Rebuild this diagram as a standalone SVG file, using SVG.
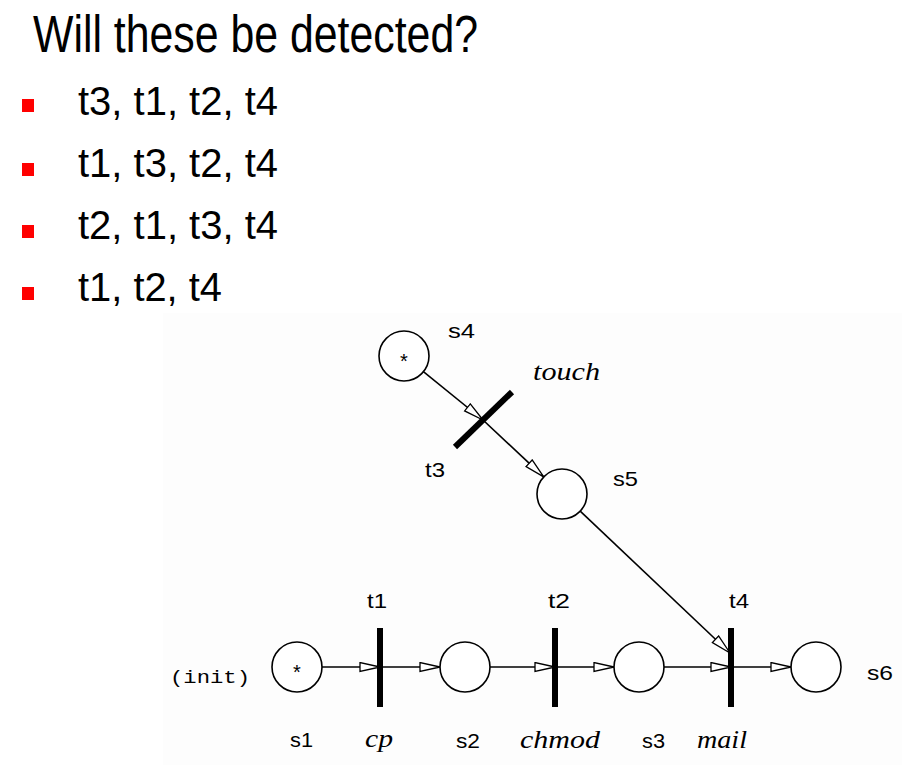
<svg xmlns="http://www.w3.org/2000/svg" width="915" height="765" viewBox="0 0 915 765">
<style>
.place{fill:#fff;stroke:#000;stroke-width:1.6}
.bar{stroke:#000;stroke-width:6}
.arc{stroke:#000;stroke-width:1.6;fill:none;marker-end:url(#arr)}
.lbl{font-family:"Liberation Sans",Arial,sans-serif;font-size:21px;fill:#000}
.it{font-family:"Liberation Serif","Times New Roman",serif;font-style:italic;font-size:25px;fill:#000}
.mono{font-family:"Liberation Mono","Courier New",monospace;font-size:19px;fill:#000}
.tok{font-family:"Liberation Sans",Arial,sans-serif;font-size:20px;fill:#000}
.big{font-family:"Liberation Sans",Arial,sans-serif;font-size:41px;fill:#000}
.bul{fill:#ff0000}
</style>
<defs>
<marker id="arr" markerUnits="userSpaceOnUse" markerWidth="22" markerHeight="12" refX="21" refY="5.5" orient="auto">
<path d="M1,1 L21,5.5 L1,10 z" fill="#fff" stroke="#000" stroke-width="1.3"/>
</marker>
</defs>
<rect width="915" height="765" fill="#fff"/>
<rect x="163" y="313" width="739" height="452" fill="#fdfdfd"/>
<g id="title"><text x="33" y="52" font-family="'Liberation Sans',Arial,sans-serif" font-size="51" textLength="445" lengthAdjust="spacingAndGlyphs">Will these be detected?</text></g>
<g id="bullets">
<rect class="bul" x="22" y="99" width="12" height="13"/>
<text class="big" x="78" y="115" textLength="200" lengthAdjust="spacingAndGlyphs">t3, t1, t2, t4</text>
<rect class="bul" x="22" y="163" width="12" height="13"/>
<text class="big" x="78" y="177" textLength="200" lengthAdjust="spacingAndGlyphs">t1, t3, t2, t4</text>
<rect class="bul" x="22" y="225" width="12" height="13"/>
<text class="big" x="78" y="239" textLength="200" lengthAdjust="spacingAndGlyphs">t2, t1, t3, t4</text>
<rect class="bul" x="22" y="287" width="12" height="13"/>
<text class="big" x="78" y="301" textLength="144" lengthAdjust="spacingAndGlyphs">t1, t2, t4</text>
</g>
<g id="connectors">
<line class="arc" x1="423.4" y1="371.7" x2="483" y2="420"/>
<line class="arc" x1="483" y1="420" x2="543.7" y2="476.9"/>
<line class="arc" x1="580.2" y1="511.1" x2="730" y2="653"/>
<line class="arc" x1="322" y1="667" x2="380" y2="667"/>
<line class="arc" x1="380" y1="667" x2="440" y2="667"/>
<line class="arc" x1="490" y1="667" x2="555" y2="667"/>
<line class="arc" x1="555" y1="667" x2="614" y2="667"/>
<line class="arc" x1="664" y1="667" x2="731" y2="667"/>
<line class="arc" x1="731" y1="667" x2="791" y2="667"/>
</g>
<g id="s4"><circle class="place" cx="404" cy="356" r="25"/><text class="tok" x="404" y="368" text-anchor="middle">*</text><text class="lbl" x="448" y="338" textLength="27" lengthAdjust="spacingAndGlyphs">s4</text></g>
<g id="t3"><line class="bar" stroke-width="5" x1="455" y1="447" x2="512" y2="392"/><text class="it" x="533" y="380" textLength="67" lengthAdjust="spacingAndGlyphs">touch</text><text class="lbl" x="425" y="477" textLength="20" lengthAdjust="spacingAndGlyphs">t3</text></g>
<g id="s5"><circle class="place" cx="562" cy="494" r="25"/><text class="lbl" x="613" y="486" textLength="25" lengthAdjust="spacingAndGlyphs">s5</text></g>
<g id="s1"><circle class="place" cx="297" cy="667" r="25"/><text class="tok" x="297" y="679" text-anchor="middle">*</text><text class="mono" x="170" y="683" textLength="80" lengthAdjust="spacingAndGlyphs">(init)</text><text class="lbl" x="290" y="747" textLength="23" lengthAdjust="spacingAndGlyphs">s1</text></g>
<g id="t1"><line class="bar" x1="380" y1="628" x2="380" y2="707"/><text class="lbl" x="367" y="608" textLength="20" lengthAdjust="spacingAndGlyphs">t1</text><text class="it" x="365" y="747" textLength="28" lengthAdjust="spacingAndGlyphs">cp</text></g>
<g id="s2"><circle class="place" cx="465" cy="667" r="25"/><text class="lbl" x="456" y="748" textLength="24" lengthAdjust="spacingAndGlyphs">s2</text></g>
<g id="t2"><line class="bar" x1="555" y1="628" x2="555" y2="707"/><text class="lbl" x="548" y="608" textLength="22" lengthAdjust="spacingAndGlyphs">t2</text><text class="it" x="520" y="748" textLength="80" lengthAdjust="spacingAndGlyphs">chmod</text></g>
<g id="s3"><circle class="place" cx="639" cy="667" r="25"/><text class="lbl" x="642" y="748" textLength="23" lengthAdjust="spacingAndGlyphs">s3</text></g>
<g id="t4"><line class="bar" x1="731" y1="628" x2="731" y2="707"/><text class="lbl" x="729" y="608" textLength="20" lengthAdjust="spacingAndGlyphs">t4</text><text class="it" x="697" y="748" textLength="50" lengthAdjust="spacingAndGlyphs">mail</text></g>
<g id="s6"><circle class="place" cx="816" cy="667" r="25"/><text class="lbl" x="867" y="680" textLength="26" lengthAdjust="spacingAndGlyphs">s6</text></g>
</svg>
